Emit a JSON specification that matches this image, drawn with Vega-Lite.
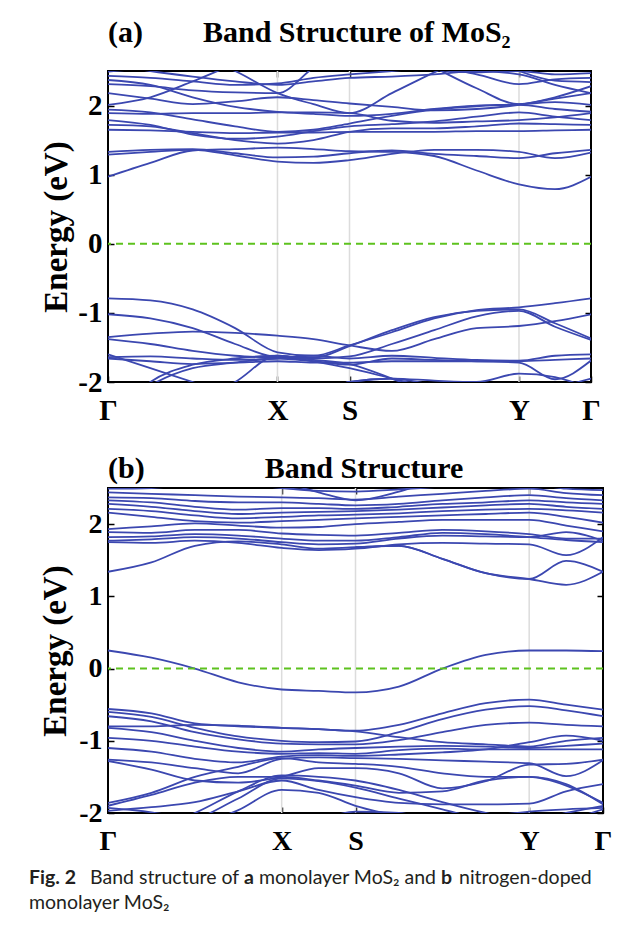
{
"$schema": "https://vega.github.io/schema/vega-lite/v6.json",
"background": "white",
"padding": {"left": 29, "top": 17, "right": 5, "bottom": 2},
"bounds": "flush",
"spacing": 106,
"config": {
  "view": {"stroke": "black", "strokeWidth": 2},
  "axis": {"domain": false, "labelFont": "Liberation Serif", "labelFontWeight": "bold", "titleFont": "Liberation Serif", "titleFontWeight": "bold", "labelColor": "black", "titleColor": "black", "tickColor": "black", "tickWidth": 1.5},
  "title": {"font": "Liberation Serif", "fontWeight": "bold", "color": "black"}
},
"datasets": {
"a": [
{"b":"c1","k":0,"E":0.97},{"b":"c1","k":0.25,"E":1.17},{"b":"c1","k":0.5,"E":1.35},{"b":"c1","k":0.75,"E":1.37},{"b":"c1","k":1,"E":1.39},{"b":"c1","k":1.2125,"E":1.37},{"b":"c1","k":1.425,"E":1.34},{"b":"c1","k":1.675,"E":1.33},{"b":"c1","k":1.925,"E":1.27},{"b":"c1","k":2.175,"E":1.06},{"b":"c1","k":2.425,"E":0.86},{"b":"c1","k":2.6375,"E":0.79},{"b":"c1","k":2.85,"E":0.97},
{"b":"c2","k":0,"E":1.29},{"b":"c2","k":0.25,"E":1.33},{"b":"c2","k":0.5,"E":1.36},{"b":"c2","k":0.75,"E":1.28},{"b":"c2","k":1,"E":1.19},{"b":"c2","k":1.2125,"E":1.17},{"b":"c2","k":1.425,"E":1.21},{"b":"c2","k":1.675,"E":1.30},{"b":"c2","k":1.925,"E":1.36},{"b":"c2","k":2.175,"E":1.36},{"b":"c2","k":2.425,"E":1.33},{"b":"c2","k":2.6375,"E":1.24},{"b":"c2","k":2.85,"E":1.32},
{"b":"c3","k":0,"E":1.33},{"b":"c3","k":0.25,"E":1.36},{"b":"c3","k":0.5,"E":1.37},{"b":"c3","k":0.75,"E":1.31},{"b":"c3","k":1,"E":1.25},{"b":"c3","k":1.2125,"E":1.26},{"b":"c3","k":1.425,"E":1.31},{"b":"c3","k":1.675,"E":1.35},{"b":"c3","k":1.925,"E":1.30},{"b":"c3","k":2.175,"E":1.27},{"b":"c3","k":2.425,"E":1.24},{"b":"c3","k":2.6375,"E":1.31},{"b":"c3","k":2.85,"E":1.36},
{"b":"c4","k":0,"E":1.65},{"b":"c4","k":0.25,"E":1.64},{"b":"c4","k":0.5,"E":1.62},{"b":"c4","k":0.75,"E":1.60},{"b":"c4","k":1,"E":1.61},{"b":"c4","k":1.2125,"E":1.61},{"b":"c4","k":1.425,"E":1.62},{"b":"c4","k":1.675,"E":1.62},{"b":"c4","k":1.925,"E":1.62},{"b":"c4","k":2.175,"E":1.63},{"b":"c4","k":2.425,"E":1.63},{"b":"c4","k":2.6375,"E":1.64},{"b":"c4","k":2.85,"E":1.65},
{"b":"c5","k":0,"E":1.72},{"b":"c5","k":0.25,"E":1.70},{"b":"c5","k":0.5,"E":1.60},{"b":"c5","k":0.75,"E":1.50},{"b":"c5","k":1,"E":1.45},{"b":"c5","k":1.2125,"E":1.50},{"b":"c5","k":1.425,"E":1.62},{"b":"c5","k":1.675,"E":1.67},{"b":"c5","k":1.925,"E":1.67},{"b":"c5","k":2.175,"E":1.70},{"b":"c5","k":2.425,"E":1.74},{"b":"c5","k":2.6375,"E":1.73},{"b":"c5","k":2.85,"E":1.72},
{"b":"c6","k":0,"E":1.79},{"b":"c6","k":0.25,"E":1.72},{"b":"c6","k":0.5,"E":1.58},{"b":"c6","k":0.75,"E":1.52},{"b":"c6","k":1,"E":1.55},{"b":"c6","k":1.2125,"E":1.63},{"b":"c6","k":1.425,"E":1.70},{"b":"c6","k":1.675,"E":1.73},{"b":"c6","k":1.925,"E":1.77},{"b":"c6","k":2.175,"E":1.84},{"b":"c6","k":2.425,"E":1.90},{"b":"c6","k":2.6375,"E":1.84},{"b":"c6","k":2.85,"E":1.79},
{"b":"c7","k":0,"E":1.89},{"b":"c7","k":0.25,"E":1.88},{"b":"c7","k":0.5,"E":1.89},{"b":"c7","k":0.75,"E":1.89},{"b":"c7","k":1,"E":1.90},{"b":"c7","k":1.2125,"E":1.90},{"b":"c7","k":1.425,"E":1.89},{"b":"c7","k":1.675,"E":1.78},{"b":"c7","k":1.925,"E":1.75},{"b":"c7","k":2.175,"E":1.77},{"b":"c7","k":2.425,"E":1.79},{"b":"c7","k":2.6375,"E":1.83},{"b":"c7","k":2.85,"E":1.89},
{"b":"c8","k":0,"E":1.94},{"b":"c8","k":0.25,"E":1.90},{"b":"c8","k":0.5,"E":1.80},{"b":"c8","k":0.75,"E":1.70},{"b":"c8","k":1,"E":1.62},{"b":"c8","k":1.2125,"E":1.65},{"b":"c8","k":1.425,"E":1.74},{"b":"c8","k":1.675,"E":1.85},{"b":"c8","k":1.925,"E":1.94},{"b":"c8","k":2.175,"E":1.99},{"b":"c8","k":2.425,"E":2.01},{"b":"c8","k":2.6375,"E":1.95},{"b":"c8","k":2.85,"E":1.91},
{"b":"c9","k":0,"E":2.01},{"b":"c9","k":0.25,"E":2.12},{"b":"c9","k":0.5,"E":2.35},{"b":"c9","k":0.75,"E":2.60},{"b":"c9","k":1,"E":2.80},{"b":"c9","k":1.2125,"E":2.90},{"b":"c9","k":1.425,"E":2.95},{"b":"c9","k":1.675,"E":2.85},{"b":"c9","k":1.925,"E":2.55},{"b":"c9","k":2.175,"E":2.25},{"b":"c9","k":2.425,"E":2.02},{"b":"c9","k":2.6375,"E":2.05},{"b":"c9","k":2.85,"E":2.01},
{"b":"c10","k":0,"E":2.31},{"b":"c10","k":0.25,"E":2.28},{"b":"c10","k":0.5,"E":2.22},{"b":"c10","k":0.75,"E":2.19},{"b":"c10","k":1,"E":2.18},{"b":"c10","k":1.2125,"E":2.55},{"b":"c10","k":1.425,"E":2.90},{"b":"c10","k":1.675,"E":3.00},{"b":"c10","k":1.925,"E":3.00},{"b":"c10","k":2.175,"E":2.80},{"b":"c10","k":2.425,"E":2.50},{"b":"c10","k":2.6375,"E":2.36},{"b":"c10","k":2.85,"E":2.34},
{"b":"c11","k":0,"E":2.90},{"b":"c11","k":0.25,"E":2.85},{"b":"c11","k":0.5,"E":2.75},{"b":"c11","k":0.75,"E":2.50},{"b":"c11","k":1,"E":2.18},{"b":"c11","k":1.2125,"E":2.02},{"b":"c11","k":1.425,"E":1.89},{"b":"c11","k":1.675,"E":2.18},{"b":"c11","k":1.925,"E":2.48},{"b":"c11","k":2.175,"E":2.75},{"b":"c11","k":2.425,"E":2.90},{"b":"c11","k":2.6375,"E":2.90},{"b":"c11","k":2.85,"E":2.90},
{"b":"c12","k":0,"E":2.18},{"b":"c12","k":0.25,"E":2.10},{"b":"c12","k":0.5,"E":2.02},{"b":"c12","k":0.75,"E":2.06},{"b":"c12","k":1,"E":2.12},{"b":"c12","k":1.2125,"E":2.08},{"b":"c12","k":1.425,"E":2.03},{"b":"c12","k":1.675,"E":1.98},{"b":"c12","k":1.925,"E":1.93},{"b":"c12","k":2.175,"E":1.95},{"b":"c12","k":2.425,"E":2.01},{"b":"c12","k":2.6375,"E":2.10},{"b":"c12","k":2.85,"E":2.18},
{"b":"c13","k":0,"E":2.37},{"b":"c13","k":0.25,"E":2.30},{"b":"c13","k":0.5,"E":2.12},{"b":"c13","k":0.75,"E":1.98},{"b":"c13","k":1,"E":1.91},{"b":"c13","k":1.2125,"E":1.88},{"b":"c13","k":1.425,"E":1.85},{"b":"c13","k":1.675,"E":1.88},{"b":"c13","k":1.925,"E":1.95},{"b":"c13","k":2.175,"E":2.00},{"b":"c13","k":2.425,"E":2.02},{"b":"c13","k":2.6375,"E":2.12},{"b":"c13","k":2.85,"E":2.28},
{"b":"c14","k":0,"E":2.43},{"b":"c14","k":0.25,"E":2.40},{"b":"c14","k":0.5,"E":2.35},{"b":"c14","k":0.75,"E":2.30},{"b":"c14","k":1,"E":2.32},{"b":"c14","k":1.2125,"E":2.40},{"b":"c14","k":1.425,"E":2.45},{"b":"c14","k":1.675,"E":2.50},{"b":"c14","k":1.925,"E":2.55},{"b":"c14","k":2.175,"E":2.45},{"b":"c14","k":2.425,"E":2.31},{"b":"c14","k":2.6375,"E":2.38},{"b":"c14","k":2.85,"E":2.40},
{"b":"c15","k":0,"E":2.49},{"b":"c15","k":0.25,"E":2.55},{"b":"c15","k":0.5,"E":2.62},{"b":"c15","k":0.75,"E":2.70},{"b":"c15","k":1,"E":2.80},{"b":"c15","k":1.2125,"E":2.90},{"b":"c15","k":1.425,"E":2.90},{"b":"c15","k":1.675,"E":2.70},{"b":"c15","k":1.925,"E":2.52},{"b":"c15","k":2.175,"E":2.48},{"b":"c15","k":2.425,"E":2.50},{"b":"c15","k":2.6375,"E":2.45},{"b":"c15","k":2.85,"E":2.47},
{"b":"c16","k":0,"E":2.60},{"b":"c16","k":0.25,"E":2.50},{"b":"c16","k":0.5,"E":2.42},{"b":"c16","k":0.75,"E":2.35},{"b":"c16","k":1,"E":2.30},{"b":"c16","k":1.2125,"E":2.35},{"b":"c16","k":1.425,"E":2.40},{"b":"c16","k":1.675,"E":2.42},{"b":"c16","k":1.925,"E":2.45},{"b":"c16","k":2.175,"E":2.50},{"b":"c16","k":2.425,"E":2.45},{"b":"c16","k":2.6375,"E":2.30},{"b":"c16","k":2.85,"E":2.18},
{"b":"v1","k":0,"E":-0.79},{"b":"v1","k":0.25,"E":-0.82},{"b":"v1","k":0.5,"E":-0.95},{"b":"v1","k":0.75,"E":-1.22},{"b":"v1","k":1,"E":-1.57},{"b":"v1","k":1.2125,"E":-1.62},{"b":"v1","k":1.425,"E":-1.47},{"b":"v1","k":1.675,"E":-1.28},{"b":"v1","k":1.925,"E":-1.08},{"b":"v1","k":2.175,"E":-0.96},{"b":"v1","k":2.425,"E":-0.92},{"b":"v1","k":2.6375,"E":-0.86},{"b":"v1","k":2.85,"E":-0.79},
{"b":"v2","k":0,"E":-1.02},{"b":"v2","k":0.25,"E":-1.08},{"b":"v2","k":0.5,"E":-1.22},{"b":"v2","k":0.75,"E":-1.45},{"b":"v2","k":1,"E":-1.64},{"b":"v2","k":1.2125,"E":-1.65},{"b":"v2","k":1.425,"E":-1.48},{"b":"v2","k":1.675,"E":-1.25},{"b":"v2","k":1.925,"E":-1.06},{"b":"v2","k":2.175,"E":-0.97},{"b":"v2","k":2.425,"E":-0.95},{"b":"v2","k":2.6375,"E":-1.15},{"b":"v2","k":2.85,"E":-1.37},
{"b":"v3","k":0,"E":-1.35},{"b":"v3","k":0.25,"E":-1.30},{"b":"v3","k":0.5,"E":-1.27},{"b":"v3","k":0.75,"E":-1.29},{"b":"v3","k":1,"E":-1.33},{"b":"v3","k":1.2125,"E":-1.38},{"b":"v3","k":1.425,"E":-1.47},{"b":"v3","k":1.675,"E":-1.55},{"b":"v3","k":1.925,"E":-1.38},{"b":"v3","k":2.175,"E":-1.22},{"b":"v3","k":2.425,"E":-1.19},{"b":"v3","k":2.6375,"E":-1.12},{"b":"v3","k":2.85,"E":-1.02},
{"b":"v4","k":0,"E":-1.38},{"b":"v4","k":0.25,"E":-1.45},{"b":"v4","k":0.5,"E":-1.55},{"b":"v4","k":0.75,"E":-1.62},{"b":"v4","k":1,"E":-1.65},{"b":"v4","k":1.2125,"E":-1.66},{"b":"v4","k":1.425,"E":-1.63},{"b":"v4","k":1.675,"E":-1.45},{"b":"v4","k":1.925,"E":-1.25},{"b":"v4","k":2.175,"E":-1.05},{"b":"v4","k":2.425,"E":-0.97},{"b":"v4","k":2.6375,"E":-1.20},{"b":"v4","k":2.85,"E":-1.39},
{"b":"v5","k":0,"E":-1.64},{"b":"v5","k":0.25,"E":-1.63},{"b":"v5","k":0.5,"E":-1.66},{"b":"v5","k":0.75,"E":-1.68},{"b":"v5","k":1,"E":-1.66},{"b":"v5","k":1.2125,"E":-1.62},{"b":"v5","k":1.425,"E":-1.66},{"b":"v5","k":1.675,"E":-1.62},{"b":"v5","k":1.925,"E":-1.65},{"b":"v5","k":2.175,"E":-1.68},{"b":"v5","k":2.425,"E":-1.69},{"b":"v5","k":2.6375,"E":-1.62},{"b":"v5","k":2.85,"E":-1.60},
{"b":"v6","k":0,"E":-1.66},{"b":"v6","k":0.25,"E":-1.70},{"b":"v6","k":0.5,"E":-1.74},{"b":"v6","k":0.75,"E":-1.72},{"b":"v6","k":1,"E":-1.70},{"b":"v6","k":1.2125,"E":-1.72},{"b":"v6","k":1.425,"E":-1.72},{"b":"v6","k":1.675,"E":-1.70},{"b":"v6","k":1.925,"E":-1.70},{"b":"v6","k":2.175,"E":-1.70},{"b":"v6","k":2.425,"E":-1.72},{"b":"v6","k":2.6375,"E":-1.96},{"b":"v6","k":2.85,"E":-1.69},
{"b":"v7","k":0,"E":-2.5},{"b":"v7","k":0.25,"E":-2.05},{"b":"v7","k":0.5,"E":-1.80},{"b":"v7","k":0.75,"E":-1.72},{"b":"v7","k":1,"E":-1.66},{"b":"v7","k":1.2125,"E":-1.70},{"b":"v7","k":1.425,"E":-1.75},{"b":"v7","k":1.675,"E":-1.66},{"b":"v7","k":1.925,"E":-1.68},{"b":"v7","k":2.175,"E":-1.70},{"b":"v7","k":2.425,"E":-1.70},{"b":"v7","k":2.6375,"E":-1.68},{"b":"v7","k":2.85,"E":-1.66},
{"b":"v8","k":0,"E":-2.3},{"b":"v8","k":0.25,"E":-2.2},{"b":"v8","k":0.5,"E":-2.1},{"b":"v8","k":0.75,"E":-2.2},{"b":"v8","k":1,"E":-2.35},{"b":"v8","k":1.2125,"E":-2.2},{"b":"v8","k":1.425,"E":-2.0},{"b":"v8","k":1.675,"E":-1.95},{"b":"v8","k":1.925,"E":-1.98},{"b":"v8","k":2.175,"E":-2.0},{"b":"v8","k":2.425,"E":-1.88},{"b":"v8","k":2.6375,"E":-1.93},{"b":"v8","k":2.85,"E":-2.1},
{"b":"v9","k":0,"E":-2.6},{"b":"v9","k":0.25,"E":-2.0},{"b":"v9","k":0.5,"E":-1.75},{"b":"v9","k":0.75,"E":-1.66},{"b":"v9","k":1,"E":-1.62},{"b":"v9","k":1.2125,"E":-1.70},{"b":"v9","k":1.425,"E":-1.80},{"b":"v9","k":1.675,"E":-1.95},{"b":"v9","k":1.925,"E":-2.1},{"b":"v9","k":2.175,"E":-2.3},{"b":"v9","k":2.425,"E":-2.4},{"b":"v9","k":2.6375,"E":-2.3},{"b":"v9","k":2.85,"E":-2.2},
{"b":"v10","k":0,"E":-1.60},{"b":"v10","k":0.25,"E":-1.80},{"b":"v10","k":0.5,"E":-2.0},{"b":"v10","k":0.75,"E":-2.2},{"b":"v10","k":1,"E":-2.35},{"b":"v10","k":1.2125,"E":-2.2},{"b":"v10","k":1.425,"E":-2.0},{"b":"v10","k":1.675,"E":-1.95},{"b":"v10","k":1.925,"E":-2.05},{"b":"v10","k":2.175,"E":-2.2},{"b":"v10","k":2.425,"E":-2.3},{"b":"v10","k":2.6375,"E":-2.1},{"b":"v10","k":2.85,"E":-1.95},
{"b":"v11","k":0,"E":-2.5},{"b":"v11","k":0.25,"E":-2.4},{"b":"v11","k":0.5,"E":-2.3},{"b":"v11","k":0.75,"E":-2.0},{"b":"v11","k":1,"E":-1.62},{"b":"v11","k":1.2125,"E":-1.68},{"b":"v11","k":1.425,"E":-1.74},{"b":"v11","k":1.675,"E":-1.95},{"b":"v11","k":1.925,"E":-2.2},{"b":"v11","k":2.175,"E":-2.4},{"b":"v11","k":2.425,"E":-2.5},{"b":"v11","k":2.6375,"E":-2.4},{"b":"v11","k":2.85,"E":-2.3}
],
"b": [
{"b":"c1","k":0,"E":1.34},{"b":"c1","k":0.25,"E":1.47},{"b":"c1","k":0.5,"E":1.70},{"b":"c1","k":0.75,"E":1.76},{"b":"c1","k":1,"E":1.72},{"b":"c1","k":1.2125,"E":1.66},{"b":"c1","k":1.425,"E":1.68},{"b":"c1","k":1.675,"E":1.70},{"b":"c1","k":1.925,"E":1.52},{"b":"c1","k":2.175,"E":1.32},{"b":"c1","k":2.425,"E":1.24},{"b":"c1","k":2.6375,"E":1.16},{"b":"c1","k":2.85,"E":1.34},
{"b":"c1b","k":1.425,"E":1.68},{"b":"c1b","k":1.675,"E":1.70},{"b":"c1b","k":1.925,"E":1.52},{"b":"c1b","k":2.175,"E":1.32},{"b":"c1b","k":2.425,"E":1.24},{"b":"c1b","k":2.6375,"E":1.49},{"b":"c1b","k":2.85,"E":1.34},
{"b":"c2","k":0,"E":1.75},{"b":"c2","k":0.25,"E":1.74},{"b":"c2","k":0.5,"E":1.77},{"b":"c2","k":0.75,"E":1.74},{"b":"c2","k":1,"E":1.67},{"b":"c2","k":1.2125,"E":1.64},{"b":"c2","k":1.425,"E":1.66},{"b":"c2","k":1.675,"E":1.72},{"b":"c2","k":1.925,"E":1.74},{"b":"c2","k":2.175,"E":1.73},{"b":"c2","k":2.425,"E":1.72},{"b":"c2","k":2.6375,"E":1.57},{"b":"c2","k":2.85,"E":1.82},
{"b":"c3","k":0,"E":1.77},{"b":"c3","k":0.25,"E":1.79},{"b":"c3","k":0.5,"E":1.82},{"b":"c3","k":0.75,"E":1.80},{"b":"c3","k":1,"E":1.75},{"b":"c3","k":1.2125,"E":1.72},{"b":"c3","k":1.425,"E":1.73},{"b":"c3","k":1.675,"E":1.80},{"b":"c3","k":1.925,"E":1.84},{"b":"c3","k":2.175,"E":1.83},{"b":"c3","k":2.425,"E":1.82},{"b":"c3","k":2.6375,"E":1.89},{"b":"c3","k":2.85,"E":1.77},
{"b":"c4","k":0,"E":1.82},{"b":"c4","k":0.25,"E":1.83},{"b":"c4","k":0.5,"E":1.86},{"b":"c4","k":0.75,"E":1.84},{"b":"c4","k":1,"E":1.80},{"b":"c4","k":1.2125,"E":1.77},{"b":"c4","k":1.425,"E":1.77},{"b":"c4","k":1.675,"E":1.82},{"b":"c4","k":1.925,"E":1.88},{"b":"c4","k":2.175,"E":1.86},{"b":"c4","k":2.425,"E":1.82},{"b":"c4","k":2.6375,"E":1.78},{"b":"c4","k":2.85,"E":1.75},
{"b":"c5","k":0,"E":1.89},{"b":"c5","k":0.25,"E":1.88},{"b":"c5","k":0.5,"E":1.92},{"b":"c5","k":0.75,"E":1.92},{"b":"c5","k":1,"E":1.87},{"b":"c5","k":1.2125,"E":1.85},{"b":"c5","k":1.425,"E":1.84},{"b":"c5","k":1.675,"E":1.88},{"b":"c5","k":1.925,"E":1.92},{"b":"c5","k":2.175,"E":1.90},{"b":"c5","k":2.425,"E":1.86},{"b":"c5","k":2.6375,"E":1.80},{"b":"c5","k":2.85,"E":1.80},
{"b":"c6","k":0,"E":1.93},{"b":"c6","k":0.25,"E":1.97},{"b":"c6","k":0.5,"E":2.01},{"b":"c6","k":0.75,"E":1.98},{"b":"c6","k":1,"E":1.95},{"b":"c6","k":1.2125,"E":1.96},{"b":"c6","k":1.425,"E":2.00},{"b":"c6","k":1.675,"E":2.03},{"b":"c6","k":1.925,"E":2.06},{"b":"c6","k":2.175,"E":2.06},{"b":"c6","k":2.425,"E":2.06},{"b":"c6","k":2.6375,"E":1.98},{"b":"c6","k":2.85,"E":1.90},
{"b":"c7","k":0,"E":2.16},{"b":"c7","k":0.25,"E":2.10},{"b":"c7","k":0.5,"E":2.04},{"b":"c7","k":0.75,"E":2.02},{"b":"c7","k":1,"E":2.04},{"b":"c7","k":1.2125,"E":2.06},{"b":"c7","k":1.425,"E":2.08},{"b":"c7","k":1.675,"E":2.10},{"b":"c7","k":1.925,"E":2.12},{"b":"c7","k":2.175,"E":2.14},{"b":"c7","k":2.425,"E":2.16},{"b":"c7","k":2.6375,"E":2.10},{"b":"c7","k":2.85,"E":2.02},
{"b":"c8","k":0,"E":2.21},{"b":"c8","k":0.25,"E":2.18},{"b":"c8","k":0.5,"E":2.12},{"b":"c8","k":0.75,"E":2.08},{"b":"c8","k":1,"E":2.10},{"b":"c8","k":1.2125,"E":2.12},{"b":"c8","k":1.425,"E":2.13},{"b":"c8","k":1.675,"E":2.15},{"b":"c8","k":1.925,"E":2.18},{"b":"c8","k":2.175,"E":2.20},{"b":"c8","k":2.425,"E":2.21},{"b":"c8","k":2.6375,"E":2.19},{"b":"c8","k":2.85,"E":2.16},
{"b":"c9","k":0,"E":2.28},{"b":"c9","k":0.25,"E":2.24},{"b":"c9","k":0.5,"E":2.18},{"b":"c9","k":0.75,"E":2.14},{"b":"c9","k":1,"E":2.16},{"b":"c9","k":1.2125,"E":2.17},{"b":"c9","k":1.425,"E":2.18},{"b":"c9","k":1.675,"E":2.20},{"b":"c9","k":1.925,"E":2.23},{"b":"c9","k":2.175,"E":2.26},{"b":"c9","k":2.425,"E":2.28},{"b":"c9","k":2.6375,"E":2.24},{"b":"c9","k":2.85,"E":2.21},
{"b":"c10","k":0,"E":2.33},{"b":"c10","k":0.25,"E":2.30},{"b":"c10","k":0.5,"E":2.24},{"b":"c10","k":0.75,"E":2.20},{"b":"c10","k":1,"E":2.22},{"b":"c10","k":1.2125,"E":2.22},{"b":"c10","k":1.425,"E":2.21},{"b":"c10","k":1.675,"E":2.24},{"b":"c10","k":1.925,"E":2.28},{"b":"c10","k":2.175,"E":2.30},{"b":"c10","k":2.425,"E":2.33},{"b":"c10","k":2.6375,"E":2.30},{"b":"c10","k":2.85,"E":2.28},
{"b":"c11","k":0,"E":2.37},{"b":"c11","k":0.25,"E":2.36},{"b":"c11","k":0.5,"E":2.32},{"b":"c11","k":0.75,"E":2.30},{"b":"c11","k":1,"E":2.30},{"b":"c11","k":1.2125,"E":2.28},{"b":"c11","k":1.425,"E":2.26},{"b":"c11","k":1.675,"E":2.28},{"b":"c11","k":1.925,"E":2.33},{"b":"c11","k":2.175,"E":2.37},{"b":"c11","k":2.425,"E":2.40},{"b":"c11","k":2.6375,"E":2.36},{"b":"c11","k":2.85,"E":2.33},
{"b":"c12","k":0,"E":2.44},{"b":"c12","k":0.25,"E":2.42},{"b":"c12","k":0.5,"E":2.40},{"b":"c12","k":0.75,"E":2.38},{"b":"c12","k":1,"E":2.37},{"b":"c12","k":1.2125,"E":2.36},{"b":"c12","k":1.425,"E":2.34},{"b":"c12","k":1.675,"E":2.38},{"b":"c12","k":1.925,"E":2.42},{"b":"c12","k":2.175,"E":2.46},{"b":"c12","k":2.425,"E":2.49},{"b":"c12","k":2.6375,"E":2.43},{"b":"c12","k":2.85,"E":2.40},
{"b":"c13","k":0,"E":2.90},{"b":"c13","k":0.25,"E":2.85},{"b":"c13","k":0.5,"E":2.80},{"b":"c13","k":0.75,"E":2.70},{"b":"c13","k":1,"E":2.58},{"b":"c13","k":1.2125,"E":2.44},{"b":"c13","k":1.425,"E":2.33},{"b":"c13","k":1.675,"E":2.45},{"b":"c13","k":1.925,"E":2.65},{"b":"c13","k":2.175,"E":2.80},{"b":"c13","k":2.425,"E":2.80},{"b":"c13","k":2.6375,"E":2.75},{"b":"c13","k":2.85,"E":2.70},
{"b":"c14","k":0,"E":2.49},{"b":"c14","k":0.25,"E":2.50},{"b":"c14","k":0.5,"E":2.55},{"b":"c14","k":0.75,"E":2.55},{"b":"c14","k":1,"E":2.50},{"b":"c14","k":1.2125,"E":2.46},{"b":"c14","k":1.425,"E":2.45},{"b":"c14","k":1.675,"E":2.48},{"b":"c14","k":1.925,"E":2.52},{"b":"c14","k":2.175,"E":2.55},{"b":"c14","k":2.425,"E":2.55},{"b":"c14","k":2.6375,"E":2.49},{"b":"c14","k":2.85,"E":2.47},
{"b":"d","k":0,"E":0.25},{"b":"d","k":0.25,"E":0.15},{"b":"d","k":0.5,"E":0.0},{"b":"d","k":0.75,"E":-0.19},{"b":"d","k":1,"E":-0.29},{"b":"d","k":1.2125,"E":-0.31},{"b":"d","k":1.425,"E":-0.33},{"b":"d","k":1.675,"E":-0.25},{"b":"d","k":1.925,"E":0.0},{"b":"d","k":2.175,"E":0.19},{"b":"d","k":2.425,"E":0.25},{"b":"d","k":2.6375,"E":0.25},{"b":"d","k":2.85,"E":0.24},
{"b":"v1","k":0,"E":-0.56},{"b":"v1","k":0.25,"E":-0.62},{"b":"v1","k":0.5,"E":-0.76},{"b":"v1","k":0.75,"E":-0.80},{"b":"v1","k":1,"E":-0.82},{"b":"v1","k":1.2125,"E":-0.84},{"b":"v1","k":1.425,"E":-0.86},{"b":"v1","k":1.675,"E":-0.78},{"b":"v1","k":1.925,"E":-0.62},{"b":"v1","k":2.175,"E":-0.48},{"b":"v1","k":2.425,"E":-0.43},{"b":"v1","k":2.6375,"E":-0.50},{"b":"v1","k":2.85,"E":-0.57},
{"b":"v2","k":0,"E":-0.60},{"b":"v2","k":0.25,"E":-0.67},{"b":"v2","k":0.5,"E":-0.82},{"b":"v2","k":0.75,"E":-0.94},{"b":"v2","k":1,"E":-1.00},{"b":"v2","k":1.2125,"E":-1.02},{"b":"v2","k":1.425,"E":-1.01},{"b":"v2","k":1.675,"E":-0.88},{"b":"v2","k":1.925,"E":-0.70},{"b":"v2","k":2.175,"E":-0.57},{"b":"v2","k":2.425,"E":-0.52},{"b":"v2","k":2.6375,"E":-0.58},{"b":"v2","k":2.85,"E":-0.66},
{"b":"v3","k":0,"E":-0.66},{"b":"v3","k":0.25,"E":-0.73},{"b":"v3","k":0.5,"E":-0.88},{"b":"v3","k":0.75,"E":-0.98},{"b":"v3","k":1,"E":-1.04},{"b":"v3","k":1.2125,"E":-1.05},{"b":"v3","k":1.425,"E":-1.05},{"b":"v3","k":1.675,"E":-0.99},{"b":"v3","k":1.925,"E":-0.88},{"b":"v3","k":2.175,"E":-0.78},{"b":"v3","k":2.425,"E":-0.75},{"b":"v3","k":2.6375,"E":-0.78},{"b":"v3","k":2.85,"E":-0.80},
{"b":"v4","k":0,"E":-0.80},{"b":"v4","k":0.25,"E":-0.80},{"b":"v4","k":0.5,"E":-0.78},{"b":"v4","k":0.75,"E":-0.79},{"b":"v4","k":1,"E":-0.82},{"b":"v4","k":1.2125,"E":-0.84},{"b":"v4","k":1.425,"E":-0.87},{"b":"v4","k":1.675,"E":-0.95},{"b":"v4","k":1.925,"E":-1.02},{"b":"v4","k":2.175,"E":-1.05},{"b":"v4","k":2.425,"E":-1.08},{"b":"v4","k":2.6375,"E":-1.00},{"b":"v4","k":2.85,"E":-0.96},
{"b":"v5","k":0,"E":-0.82},{"b":"v5","k":0.25,"E":-0.88},{"b":"v5","k":0.5,"E":-1.00},{"b":"v5","k":0.75,"E":-1.10},{"b":"v5","k":1,"E":-1.15},{"b":"v5","k":1.2125,"E":-1.12},{"b":"v5","k":1.425,"E":-1.10},{"b":"v5","k":1.675,"E":-1.08},{"b":"v5","k":1.925,"E":-1.07},{"b":"v5","k":2.175,"E":-1.08},{"b":"v5","k":2.425,"E":-1.10},{"b":"v5","k":2.6375,"E":-1.07},{"b":"v5","k":2.85,"E":-1.04},
{"b":"v6","k":0,"E":-0.96},{"b":"v6","k":0.25,"E":-1.00},{"b":"v6","k":0.5,"E":-1.08},{"b":"v6","k":0.75,"E":-1.15},{"b":"v6","k":1,"E":-1.18},{"b":"v6","k":1.2125,"E":-1.17},{"b":"v6","k":1.425,"E":-1.18},{"b":"v6","k":1.675,"E":-1.13},{"b":"v6","k":1.925,"E":-1.11},{"b":"v6","k":2.175,"E":-1.12},{"b":"v6","k":2.425,"E":-1.12},{"b":"v6","k":2.6375,"E":-1.12},{"b":"v6","k":2.85,"E":-1.12},
{"b":"v7","k":0,"E":-1.10},{"b":"v7","k":0.25,"E":-1.15},{"b":"v7","k":0.5,"E":-1.25},{"b":"v7","k":0.75,"E":-1.30},{"b":"v7","k":1,"E":-1.22},{"b":"v7","k":1.2125,"E":-1.20},{"b":"v7","k":1.425,"E":-1.21},{"b":"v7","k":1.675,"E":-1.19},{"b":"v7","k":1.925,"E":-1.16},{"b":"v7","k":2.175,"E":-1.12},{"b":"v7","k":2.425,"E":-1.02},{"b":"v7","k":2.6375,"E":-0.93},{"b":"v7","k":2.85,"E":-1.00},
{"b":"v8","k":0,"E":-1.26},{"b":"v8","k":0.25,"E":-1.30},{"b":"v8","k":0.5,"E":-1.38},{"b":"v8","k":0.75,"E":-1.45},{"b":"v8","k":1,"E":-1.25},{"b":"v8","k":1.2125,"E":-1.23},{"b":"v8","k":1.425,"E":-1.24},{"b":"v8","k":1.675,"E":-1.25},{"b":"v8","k":1.925,"E":-1.27},{"b":"v8","k":2.175,"E":-1.29},{"b":"v8","k":2.425,"E":-1.31},{"b":"v8","k":2.6375,"E":-1.49},{"b":"v8","k":2.85,"E":-1.27},
{"b":"v9","k":0,"E":-1.28},{"b":"v9","k":0.25,"E":-1.40},{"b":"v9","k":0.5,"E":-1.55},{"b":"v9","k":0.75,"E":-1.58},{"b":"v9","k":1,"E":-1.50},{"b":"v9","k":1.2125,"E":-1.38},{"b":"v9","k":1.425,"E":-1.38},{"b":"v9","k":1.675,"E":-1.45},{"b":"v9","k":1.925,"E":-1.66},{"b":"v9","k":2.175,"E":-1.56},{"b":"v9","k":2.425,"E":-1.33},{"b":"v9","k":2.6375,"E":-1.32},{"b":"v9","k":2.85,"E":-1.26},
{"b":"v10","k":0,"E":-1.86},{"b":"v10","k":0.25,"E":-1.72},{"b":"v10","k":0.5,"E":-1.50},{"b":"v10","k":0.75,"E":-1.36},{"b":"v10","k":1,"E":-1.24},{"b":"v10","k":1.2125,"E":-1.30},{"b":"v10","k":1.425,"E":-1.32},{"b":"v10","k":1.675,"E":-1.36},{"b":"v10","k":1.925,"E":-1.45},{"b":"v10","k":2.175,"E":-1.50},{"b":"v10","k":2.425,"E":-1.50},{"b":"v10","k":2.6375,"E":-1.62},{"b":"v10","k":2.85,"E":-1.86},
{"b":"v11","k":0,"E":-1.90},{"b":"v11","k":0.25,"E":-1.75},{"b":"v11","k":0.5,"E":-1.58},{"b":"v11","k":0.75,"E":-1.50},{"b":"v11","k":1,"E":-1.50},{"b":"v11","k":1.2125,"E":-1.55},{"b":"v11","k":1.425,"E":-1.62},{"b":"v11","k":1.675,"E":-1.72},{"b":"v11","k":1.925,"E":-1.70},{"b":"v11","k":2.175,"E":-1.55},{"b":"v11","k":2.425,"E":-1.50},{"b":"v11","k":2.6375,"E":-1.60},{"b":"v11","k":2.85,"E":-1.88},
{"b":"v12","k":0,"E":-1.97},{"b":"v12","k":0.25,"E":-1.92},{"b":"v12","k":0.5,"E":-1.85},{"b":"v12","k":0.75,"E":-1.70},{"b":"v12","k":1,"E":-1.55},{"b":"v12","k":1.2125,"E":-1.68},{"b":"v12","k":1.425,"E":-1.78},{"b":"v12","k":1.675,"E":-1.86},{"b":"v12","k":1.925,"E":-1.88},{"b":"v12","k":2.175,"E":-1.88},{"b":"v12","k":2.425,"E":-1.87},{"b":"v12","k":2.6375,"E":-1.70},{"b":"v12","k":2.85,"E":-1.60},
{"b":"v13","k":0,"E":-2.5},{"b":"v13","k":0.25,"E":-2.3},{"b":"v13","k":0.5,"E":-2.1},{"b":"v13","k":0.75,"E":-1.80},{"b":"v13","k":1,"E":-1.52},{"b":"v13","k":1.2125,"E":-1.56},{"b":"v13","k":1.425,"E":-1.65},{"b":"v13","k":1.675,"E":-1.80},{"b":"v13","k":1.925,"E":-1.95},{"b":"v13","k":2.175,"E":-2.1},{"b":"v13","k":2.425,"E":-2.2},{"b":"v13","k":2.6375,"E":-2.1},{"b":"v13","k":2.85,"E":-1.95},
{"b":"v14","k":0,"E":-2.4},{"b":"v14","k":0.25,"E":-2.2},{"b":"v14","k":0.5,"E":-2.0},{"b":"v14","k":0.75,"E":-1.70},{"b":"v14","k":1,"E":-1.48},{"b":"v14","k":1.2125,"E":-1.50},{"b":"v14","k":1.425,"E":-1.55},{"b":"v14","k":1.675,"E":-1.68},{"b":"v14","k":1.925,"E":-1.85},{"b":"v14","k":2.175,"E":-2.0},{"b":"v14","k":2.425,"E":-2.1},{"b":"v14","k":2.6375,"E":-2.0},{"b":"v14","k":2.85,"E":-1.90},
{"b":"v15","k":0,"E":-2.6},{"b":"v15","k":0.25,"E":-2.5},{"b":"v15","k":0.5,"E":-2.2},{"b":"v15","k":0.75,"E":-1.96},{"b":"v15","k":1,"E":-1.68},{"b":"v15","k":1.2125,"E":-1.72},{"b":"v15","k":1.425,"E":-1.90},{"b":"v15","k":1.675,"E":-2.05},{"b":"v15","k":1.925,"E":-2.2},{"b":"v15","k":2.175,"E":-2.3},{"b":"v15","k":2.425,"E":-2.3},{"b":"v15","k":2.6375,"E":-2.2},{"b":"v15","k":2.85,"E":-2.1},
{"b":"v16","k":0,"E":-1.93},{"b":"v16","k":0.25,"E":-1.99},{"b":"v16","k":0.5,"E":-2.1},{"b":"v16","k":0.75,"E":-2.2},{"b":"v16","k":1,"E":-2.2},{"b":"v16","k":1.2125,"E":-2.1},{"b":"v16","k":1.425,"E":-1.98},{"b":"v16","k":1.675,"E":-2.0},{"b":"v16","k":1.925,"E":-2.1},{"b":"v16","k":2.175,"E":-2.05},{"b":"v16","k":2.425,"E":-1.98},{"b":"v16","k":2.6375,"E":-1.95},{"b":"v16","k":2.85,"E":-1.93}
]
},
"vconcat": [
{
  "width": 483, "height": 311,
  "title": {"text": "(a)\u2003\u2003Band Structure of MoS\u2082", "anchor": "start", "frame": "group", "fontSize": 30, "offset": 22},
  "layer": [
    {"data": {"values": [{"k": 1}, {"k": 1.425}, {"k": 2.425}]},
     "mark": {"type": "rule", "color": "#dcdcdc", "strokeWidth": 1.5},
     "encoding": {"x": {"field": "k", "type": "quantitative", "scale": {"domain": [0, 2.85], "nice": false, "zero": false},
        "axis": {"orient": "top", "labels": false, "grid": false, "tickSize": -6, "values": [1, 1.425, 2.425], "title": null}}}},
    {"data": {"name": "a"},
     "mark": {"type": "line", "clip": true, "color": "#3b47b0", "strokeWidth": 1.8, "interpolate": "monotone"},
     "encoding": {
       "x": {"field": "k", "type": "quantitative", "scale": {"domain": [0, 2.85], "nice": false, "zero": false},
         "axis": {"orient": "bottom", "values": [0, 1, 1.425, 2.425, 2.85], "labelExpr": "datum.value == 1 ? 'X' : datum.value == 1.425 ? 'S' : datum.value == 2.425 ? 'Y' : 'Γ'", "tickSize": -6, "labelPadding": 20, "labelFontSize": 29, "labelFlush": false, "labelOverlap": false, "labelBound": false, "grid": false, "title": null}},
       "y": {"field": "E", "type": "quantitative", "scale": {"domain": [-2, 2.5], "nice": false, "zero": false},
         "axis": {"orient": "left", "values": [-2, -1, 0, 1, 2], "labelExpr": "datum.value < 0 ? '-' + abs(datum.value) : '' + datum.value", "tickSize": -6, "labelPadding": 12, "labelFontSize": 29, "labelFlush": false, "labelOverlap": false, "title": "Energy (eV)", "titleFontSize": 33, "titlePadding": 4, "grid": false}},
       "detail": {"field": "b"}}},
    {"data": {"values": [{"E": 0}]},
     "mark": {"type": "rule", "color": "#5dc21e", "strokeWidth": 2, "strokeDash": [7, 5]},
     "encoding": {"y": {"field": "E", "type": "quantitative", "scale": {"domain": [-2, 2.5], "nice": false, "zero": false},
        "axis": {"orient": "right", "labels": false, "tickSize": -6, "values": [-2, -1, 1, 2], "title": null, "grid": false}}}}
  ],
  "resolve": {"axis": {"x": "independent", "y": "independent"}}
},
{
  "width": 495, "height": 325,
  "title": {"text": "(b)\u2003\u2003\u2003\u2003Band Structure", "anchor": "start", "frame": "group", "fontSize": 30, "offset": 3},
  "layer": [
    {"data": {"values": [{"k": 1}, {"k": 1.425}, {"k": 2.425}]},
     "mark": {"type": "rule", "color": "#dcdcdc", "strokeWidth": 1.5},
     "encoding": {"x": {"field": "k", "type": "quantitative", "scale": {"domain": [0, 2.85], "nice": false, "zero": false},
        "axis": {"orient": "top", "labels": false, "grid": false, "tickSize": -6, "values": [1, 1.425, 2.425], "title": null}}}},
    {"data": {"name": "b"},
     "mark": {"type": "line", "clip": true, "color": "#3b47b0", "strokeWidth": 1.8, "interpolate": "monotone"},
     "encoding": {
       "x": {"field": "k", "type": "quantitative", "scale": {"domain": [0, 2.85], "nice": false, "zero": false},
         "axis": {"orient": "bottom", "values": [0, 1, 1.425, 2.425, 2.85], "labelExpr": "datum.value == 1 ? 'X' : datum.value == 1.425 ? 'S' : datum.value == 2.425 ? 'Y' : 'Γ'", "tickSize": -6, "labelPadding": 20, "labelFontSize": 28, "labelFlush": false, "labelOverlap": false, "labelBound": false, "grid": false, "title": null}},
       "y": {"field": "E", "type": "quantitative", "scale": {"domain": [-2, 2.5], "nice": false, "zero": false},
         "axis": {"orient": "left", "values": [-2, -1, 0, 1, 2], "labelExpr": "datum.value < 0 ? '-' + abs(datum.value) : '' + datum.value", "tickSize": -6, "labelPadding": 12, "labelFontSize": 28, "labelFlush": false, "labelOverlap": false, "title": "Energy (eV)", "titleFontSize": 33, "titlePadding": 6, "grid": false}},
       "detail": {"field": "b"}}},
    {"data": {"values": [{"E": 0}]},
     "mark": {"type": "rule", "color": "#5dc21e", "strokeWidth": 2, "strokeDash": [7, 5]},
     "encoding": {"y": {"field": "E", "type": "quantitative", "scale": {"domain": [-2, 2.5], "nice": false, "zero": false},
        "axis": {"orient": "right", "labels": false, "tickSize": -6, "values": [-2, -1, 1, 2], "title": null, "grid": false}}}}
  ],
  "resolve": {"axis": {"x": "independent", "y": "independent"}}
},
{
  "width": 483, "height": 1,
  "view": {"stroke": null},
  "layer": [
    {"data": {"values": [{"t": "Fig. 2"}]}, "mark": {"type": "text", "x": -79, "y": -35, "align": "left", "baseline": "alphabetic", "font": "Lato", "fontSize": 19.5, "fontWeight": "bold", "color": "#231f20"}, "encoding": {"text": {"field": "t"}}},
    {"data": {"values": [{"t": "Band structure of"}]}, "mark": {"type": "text", "x": -18, "y": -35, "align": "left", "baseline": "alphabetic", "font": "Lato", "fontSize": 19.5, "color": "#231f20"}, "encoding": {"text": {"field": "t"}}},
    {"data": {"values": [{"t": "a"}]}, "mark": {"type": "text", "x": 136, "y": -35, "align": "left", "baseline": "alphabetic", "font": "Lato", "fontSize": 19.5, "fontWeight": "bold", "color": "#231f20"}, "encoding": {"text": {"field": "t"}}},
    {"data": {"values": [{"t": "monolayer MoS\u2082 and"}]}, "mark": {"type": "text", "x": 151, "y": -35, "align": "left", "baseline": "alphabetic", "font": "Lato", "fontSize": 19.5, "color": "#231f20"}, "encoding": {"text": {"field": "t"}}},
    {"data": {"values": [{"t": "b"}]}, "mark": {"type": "text", "x": 333, "y": -35, "align": "left", "baseline": "alphabetic", "font": "Lato", "fontSize": 19.5, "fontWeight": "bold", "color": "#231f20"}, "encoding": {"text": {"field": "t"}}},
    {"data": {"values": [{"t": "nitrogen-doped"}]}, "mark": {"type": "text", "x": 351, "y": -35, "align": "left", "baseline": "alphabetic", "font": "Lato", "fontSize": 19.5, "color": "#231f20"}, "encoding": {"text": {"field": "t"}}},
    {"data": {"values": [{"t": "monolayer MoS\u2082"}]}, "mark": {"type": "text", "x": -79, "y": -10, "align": "left", "baseline": "alphabetic", "font": "Lato", "fontSize": 19.5, "color": "#231f20"}, "encoding": {"text": {"field": "t"}}}
  ]
}
]
}
